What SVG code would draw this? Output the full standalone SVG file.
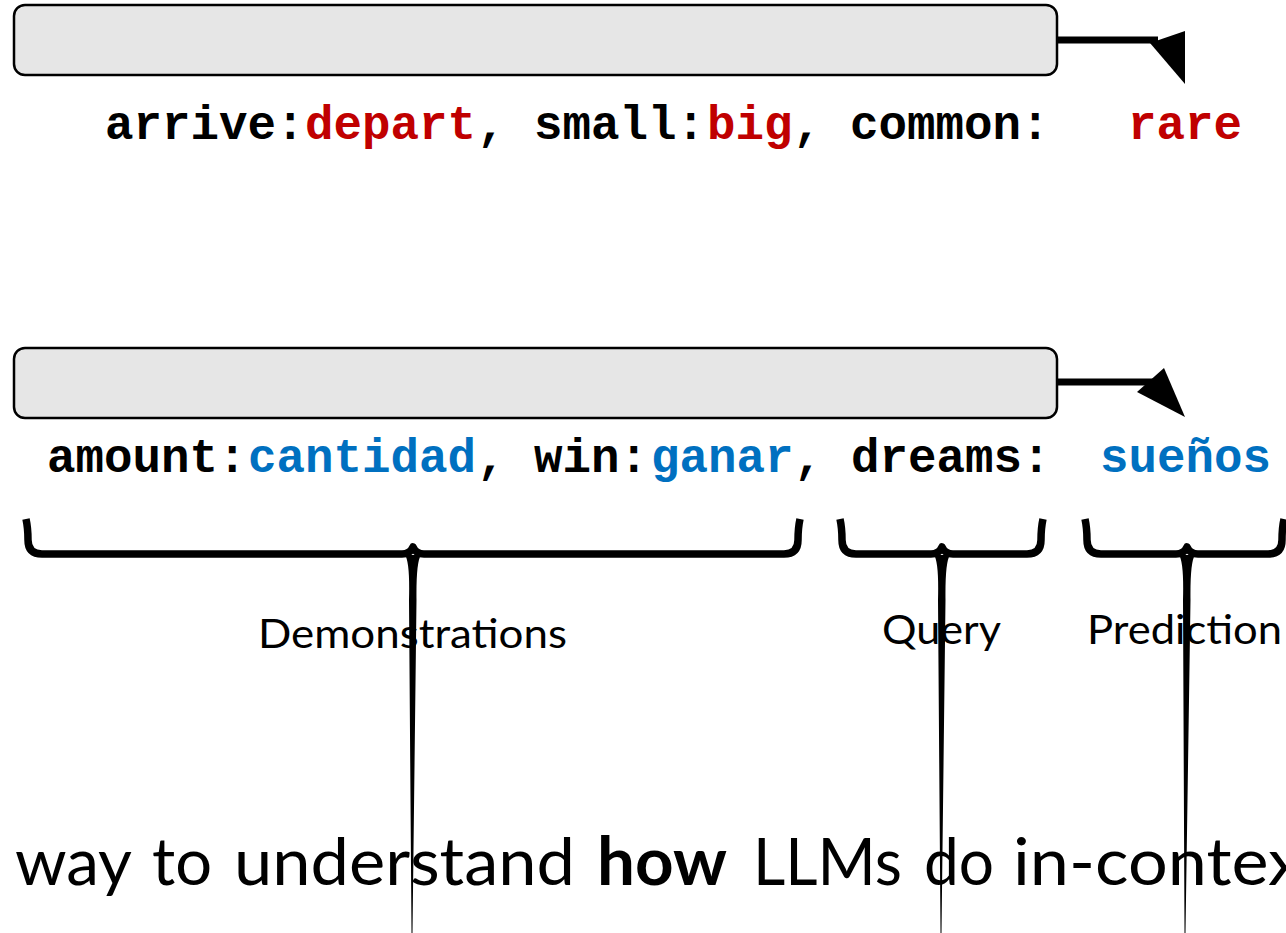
<svg xmlns="http://www.w3.org/2000/svg" width="1286" height="933" viewBox="0 0 1286 933">
  <style>
    .box { fill: #e6e6e6; stroke: #000; stroke-width: 2.5; }
    .wire { stroke: #000; stroke-width: 7; fill: none; }
    .head { fill: #000; }
    .mono { font-family: "Liberation Mono", "Courier New", monospace; font-weight: bold; font-size: 47.5px; fill: #000; }
    .red { fill: #c00000; }
    .blue { fill: #0070c0; }
    .brace { stroke: #000; stroke-width: 7.5; fill: none; stroke-linejoin: round; }
    .tail { fill: #000; }
    .label { font-family: Lato, "Open Sans", sans-serif; font-size: 41px; fill: #000; }
    .big { font-family: Lato, "Open Sans", sans-serif; font-size: 66px; fill: #000; }
    .bold { font-weight: bold; }
  </style>

  <!-- model blocks -->
  <g id="model-top">
    <rect class="box" x="14" y="5" width="1043" height="70" rx="11"/>
  </g>
  <g id="model-bottom">
    <rect class="box" x="14" y="348" width="1043" height="70" rx="11"/>
  </g>

  <!-- outputs of the model blocks -->
  <g id="connectors">
    <line class="wire" x1="1057" y1="40" x2="1158" y2="40"/>
    <polygon class="head" points="1150,43 1185,31 1185,84"/>
    <line class="wire" x1="1057" y1="382" x2="1160" y2="382"/>
    <polygon class="head" points="1137,392 1164,368 1185,417"/>
  </g>

  <!-- English antonym prompt -->
  <g id="prompt-antonyms">
    <text class="mono" y="139">
      <tspan x="105">arrive:</tspan><tspan class="red" x="305">depart</tspan><tspan x="477">, small:</tspan><tspan class="red" x="707">big</tspan><tspan x="793">, common:</tspan><tspan class="red" x="1128">rare</tspan>
    </text>
  </g>

  <!-- English to Spanish prompt -->
  <g id="prompt-translation">
    <text class="mono" y="472">
      <tspan x="47">amount:</tspan><tspan class="blue" x="248">cantidad</tspan><tspan x="477">, win:</tspan><tspan class="blue" x="651">ganar</tspan><tspan x="794">, dreams:</tspan><tspan class="blue" x="1100">sueños</tspan>
    </text>
  </g>

  <!-- braces grouping the prompt parts -->
  <g id="brace-demonstrations">
    <path class="brace" d="M26,519 Q28,528 28,540 Q28,554 42,554 L402,554 Q410,554 413,547 Q416,554 424,554 L784,554 Q798,554 798,540 Q798,528 800,519"/>
    <path class="tail" d="M405,555 Q410,562 409,600 L411.5,933 L412.5,933 L416.5,600 Q416,562 421,555 Z"/>
    <text class="label" x="258" y="648" textLength="309" lengthAdjust="spacingAndGlyphs">Demonstrations</text>
  </g>
  <g id="brace-query">
    <path class="brace" d="M840,519 Q842,528 842,540 Q842,554 856,554 L931,554 Q939,554 942,547 Q945,554 953,554 L1027,554 Q1041,554 1041,540 Q1041,528 1043,519"/>
    <path class="tail" d="M934,555 Q939,562 938,600 L940.5,933 L941.5,933 L945.5,600 Q945,562 950,555 Z"/>
    <text class="label" x="882" y="644" textLength="119" lengthAdjust="spacingAndGlyphs">Query</text>
  </g>
  <g id="brace-prediction">
    <path class="brace" d="M1085,519 Q1087,528 1087,540 Q1087,554 1101,554 L1176,554 Q1184,554 1187,547 Q1190,554 1198,554 L1268,554 Q1282,554 1282,540 Q1282,528 1284,519"/>
    <path class="tail" d="M1179,555 Q1184,562 1183,600 L1184.5,933 L1185.5,933 L1190.5,600 Q1190,562 1195,555 Z"/>
    <text class="label" x="1087" y="644" textLength="195" lengthAdjust="spacingAndGlyphs">Prediction</text>
  </g>

  <!-- caption line -->
  <g id="caption">
    <text class="big" x="15" y="885" textLength="117" lengthAdjust="spacingAndGlyphs">way</text>
    <text class="big" x="152" y="885" textLength="60" lengthAdjust="spacingAndGlyphs">to</text>
    <text class="big" x="234" y="885" textLength="341" lengthAdjust="spacingAndGlyphs">understand</text>
    <text class="big bold" x="597" y="885" textLength="130" lengthAdjust="spacingAndGlyphs">how</text>
    <text class="big" x="753" y="885" textLength="149" lengthAdjust="spacingAndGlyphs">LLMs</text>
    <text class="big" x="924" y="885" textLength="70" lengthAdjust="spacingAndGlyphs">do</text>
    <text class="big" x="1013" y="885" textLength="290" lengthAdjust="spacingAndGlyphs">in-contex</text>
  </g>
</svg>
